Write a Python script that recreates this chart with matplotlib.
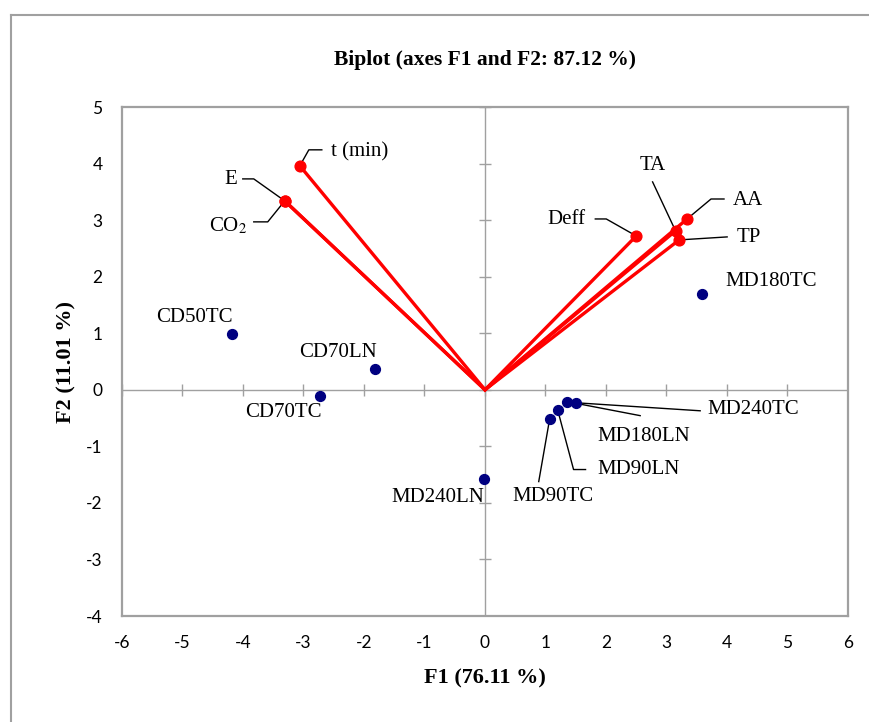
import matplotlib
matplotlib.use("Agg")
import matplotlib.pyplot as plt
from matplotlib.lines import Line2D

plt.rcParams['mathtext.fontset'] = 'stix'

# Observations (F1, F2 scores)
obs_names = ["CD50TC", "CD70LN", "CD70TC", "MD240LN", "MD90TC",
             "MD90LN", "MD180LN", "MD240TC", "MD180TC"]
obs_f1 = [-4.18, -1.82, -2.73, -0.02, 1.07, 1.20, 1.36, 1.51, 3.59]
obs_f2 = [0.99, 0.37, -0.11, -1.57, -0.51, -0.35, -0.21, -0.23, 1.70]

# Variables (loadings)
var_names = ["t (min)", "E", "CO$_2$", "Deff", "TA", "AA", "TP"]
var_f1 = [-3.06, -3.31, -3.31, 2.50, 3.15, 3.34, 3.21]
var_f2 = [3.96, 3.34, 3.34, 2.72, 2.81, 3.02, 2.65]

xticks = list(range(-6, 7))
yticks = list(range(-4, 6))

# pixel scale of the plot area (px per unit), used for label offsets
SX, SY = 60.58, 56.6

# label placement: text offset (px), alignment, leader vertices (px offsets from point)
label_style = {
    "t (min)": ((31, -14), "left", [(9, -16), (22, -16)]),
    "E": ((-48, -21), "right", [(-31, -22), (-42, -22)]),
    "CO$_2$": ((-38, 25), "right", [(-17, 21), (-31, 21)]),
    "Deff": ((-51, -16), "right", [(-30, -17), (-41, -17)]),
    "TA": ((-23, -65), "center", [(-23, -49)]),
    "AA": ((46, -18), "left", [(24, -20), (37, -20)]),
    "TP": ((58, -2), "left", [(48, -3)]),
    "CD50TC": ((-38, -16), "center", []),
    "CD70LN": ((-37, -16), "center", []),
    "CD70TC": ((-36, 17), "center", []),
    "MD240LN": ((0, 19), "right", []),
    "MD90TC": ((3, 78), "center", [(-11, 63)]),
    "MD90LN": ((40, 60), "left", [(16, 60), (28, 60)]),
    "MD180LN": ((30, 35), "left", [(73, 14)]),
    "MD240TC": ((131, 7), "left", [(124, 8)]),
    "MD180TC": ((23, -12), "left", []),
}

serif = "Liberation Serif"
grey = "#a0a0a0"


def put_label(ax, name, x, y):
    (tx, ty), ha, leader = label_style[name]
    if leader:
        xs = [x] + [x + dx / SX for dx, dy in leader]
        ys = [y] + [y - dy / SY for dx, dy in leader]
        ax.plot(xs, ys, color="black", lw=1.0, zorder=2)
    ax.text(x + tx / SX, y - ty / SY, name, ha=ha, va="center",
            fontsize=15, family=serif, zorder=5)


fig = plt.figure(figsize=(8.7, 7.22), dpi=100)
ax = fig.add_axes([0.1402, 0.1468, 0.8345, 0.705])

# figure border (left and top only visible)
fig.add_artist(Line2D([0.0126, 0.0126], [0.0, 0.979], color=grey, lw=1.5))
fig.add_artist(Line2D([0.0126, 1.0], [0.979, 0.979], color=grey, lw=1.5))

# centre axes with crossing ticks
ax.axhline(0, color=grey, lw=1.0, zorder=1)
ax.axvline(0, color=grey, lw=1.0, zorder=1)
ax.plot(xticks, [0] * len(xticks), ls="none", marker="|", ms=8, mew=1.0, color=grey, zorder=1)
ax.plot([0] * len(yticks), yticks, ls="none", marker="_", ms=8, mew=1.0, color=grey, zorder=1)

# variable vectors
for x, y in zip(var_f1, var_f2):
    ax.plot([0, x], [0, y], color="#ff0000", lw=2.4, zorder=3)
ax.scatter(var_f1, var_f2, s=60, color="#ff0000", zorder=4)

# observations
ax.scatter(obs_f1, obs_f2, s=50, color="#000080", zorder=4)

for name, x, y in zip(var_names, var_f1, var_f2):
    put_label(ax, name, x, y)
for name, x, y in zip(obs_names, obs_f1, obs_f2):
    put_label(ax, name, x, y)

ax.set_xlim(-6, 6)
ax.set_ylim(-4, 5)
ax.set_xticks(xticks)
ax.set_yticks(yticks)
ax.set_xticklabels([str(v) for v in xticks])
ax.set_yticklabels([str(v) for v in yticks])
ax.tick_params(length=0, pad=14, labelsize=12.5)
for lab in ax.get_xticklabels() + ax.get_yticklabels():
    lab.set_family("Lato")
for sp in ax.spines.values():
    sp.set_color(grey)
    sp.set_linewidth(1.6)

ax.set_xlabel("F1 (76.11 %)", fontsize=16, fontweight="bold", family=serif, labelpad=12)
ax.set_ylabel("F2 (11.01 %)", fontsize=16, fontweight="bold", family=serif, labelpad=7)
ax.set_title("Biplot (axes F1 and F2: 87.12 %)", fontsize=15.5, fontweight="bold",
             family=serif, pad=30)

fig.savefig("out.png", dpi=100)
